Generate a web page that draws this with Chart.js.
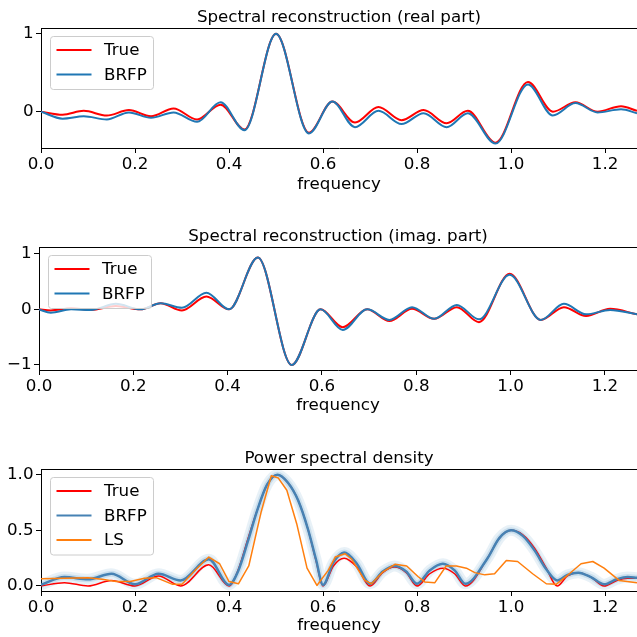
<!DOCTYPE html>
<html><head><meta charset="utf-8">
<script src="https://cdn.jsdelivr.net/npm/chart.js@4"></script>
<style>
html,body{margin:0;padding:0;background:#fff;overflow:hidden;width:637px;height:637px;}
canvas{position:absolute;left:0;}
</style></head><body>
<canvas id="c1" width="637" height="198" style="top:0px;width:637px;height:198px"></canvas>
<canvas id="c2" width="637" height="200" style="top:219px;width:637px;height:200px"></canvas>
<canvas id="c3" width="637" height="196" style="top:441px;width:637px;height:196px"></canvas>
<script>
// ---------- data ----------
const xTickValues = [0, 0.2, 0.4, 0.6, 0.8, 1.0, 1.2];
const xTickLabels = ['0.0', '0.2', '0.4', '0.6', '0.8', '1.0', '1.2'];

const titleReal = 'Spectral reconstruction (real part)';
const titleImag = 'Spectral reconstruction (imag. part)';
const titlePsd  = 'Power spectral density';
const xLabel = 'frequency';

const realYTicks = [0, 1];
const realYLabels = ['0', '1'];
const realFreq = [0.000, 0.046, 0.091, 0.140, 0.187, 0.234, 0.282, 0.332, 0.382, 0.433, 0.500, 0.570, 0.620, 0.668, 0.718, 0.767, 0.814, 0.863, 0.908, 0.967, 1.036, 1.089, 1.137, 1.184, 1.234, 1.268];
const realTrue = [0.00, -0.04, 0.01, -0.05, 0.02, -0.06, 0.04, -0.10, 0.09, -0.23, 1.00, -0.27, 0.13, -0.14, 0.06, -0.11, 0.02, -0.15, 0.01, -0.40, 0.38, 0.00, 0.12, 0.00, 0.07, 0.01];
const realBRFP = [0.00, -0.09, -0.06, -0.10, -0.01, -0.08, -0.01, -0.13, 0.12, -0.24, 1.00, -0.28, 0.13, -0.20, 0.01, -0.16, -0.02, -0.20, -0.02, -0.41, 0.35, -0.05, 0.11, -0.01, 0.03, -0.02];

const imagYTicks = [-1, 0, 1];
const imagYLabels = ['\u22121', '0', '1'];
const imagFreq = [0.000, 0.025, 0.068, 0.110, 0.163, 0.215, 0.258, 0.303, 0.355, 0.403, 0.464, 0.536, 0.597, 0.644, 0.696, 0.743, 0.791, 0.838, 0.886, 0.933, 0.998, 1.064, 1.113, 1.160, 1.211, 1.268];
const imagTrue = [0.00, -0.02, 0.02, -0.01, 0.06, 0.00, 0.11, -0.02, 0.23, 0.00, 0.93, -1.00, 0.00, -0.32, 0.00, -0.21, 0.01, -0.17, 0.04, -0.23, 0.64, -0.19, 0.04, -0.12, 0.01, -0.09];
const imagBRFP = [0.00, -0.06, 0.00, -0.01, 0.10, 0.00, 0.11, 0.03, 0.30, 0.00, 0.93, -1.00, 0.00, -0.37, 0.00, -0.19, 0.04, -0.17, 0.08, -0.18, 0.62, -0.19, 0.10, -0.09, -0.01, -0.09];

const psdYTicks = [0, 0.5, 1.0];
const psdYLabels = ['0.0', '0.5', '1.0'];
const psdFreq = [0.000, 0.050, 0.100, 0.150, 0.200, 0.250, 0.297, 0.357, 0.400, 0.420, 0.440, 0.460, 0.481, 0.503, 0.525, 0.547, 0.568, 0.585, 0.600, 0.622, 0.645, 0.672, 0.700, 0.727, 0.752, 0.777, 0.800, 0.827, 0.855, 0.880, 0.903, 0.950, 0.975, 1.000, 1.025, 1.050, 1.075, 1.098, 1.120, 1.143, 1.170, 1.198, 1.225, 1.248, 1.268];
const psdTrue = [0.00, 0.03, 0.00, 0.05, 0.00, 0.09, 0.00, 0.19, 0.00, 0.15, 0.42, 0.68, 0.91, 1.00, 0.93, 0.77, 0.51, 0.23, 0.00, 0.18, 0.25, 0.17, 0.00, 0.12, 0.17, 0.12, 0.00, 0.11, 0.16, 0.11, 0.00, 0.25, 0.43, 0.50, 0.46, 0.34, 0.16, 0.00, 0.09, 0.12, 0.08, 0.00, 0.05, 0.07, 0.07];
const psdBRFP = [0.01, 0.08, 0.06, 0.11, 0.015, 0.11, 0.05, 0.24, 0.01, 0.14, 0.40, 0.68, 0.91, 1.00, 0.93, 0.77, 0.51, 0.24, 0.01, 0.21, 0.30, 0.20, 0.02, 0.13, 0.18, 0.13, 0.02, 0.14, 0.20, 0.14, 0.02, 0.25, 0.43, 0.50, 0.45, 0.32, 0.15, 0.05, 0.10, 0.12, 0.08, 0.015, 0.06, 0.08, 0.075];
const lsFreq = [0.000, 0.050, 0.100, 0.130, 0.160, 0.190, 0.220, 0.245, 0.280, 0.300, 0.330, 0.357, 0.380, 0.400, 0.420, 0.442, 0.468, 0.490, 0.505, 0.523, 0.544, 0.566, 0.587, 0.611, 0.626, 0.647, 0.661, 0.689, 0.703, 0.728, 0.753, 0.778, 0.802, 0.817, 0.838, 0.862, 0.884, 0.905, 0.923, 0.944, 0.965, 0.990, 1.014, 1.046, 1.075, 1.096, 1.124, 1.149, 1.174, 1.198, 1.230, 1.268];
const lsPower = [0.065, 0.07, 0.075, 0.06, 0.04, 0.04, 0.07, 0.075, 0.015, 0.015, 0.15, 0.26, 0.20, 0.04, 0.02, 0.18, 0.66, 0.99, 0.97, 0.86, 0.56, 0.16, 0.005, 0.14, 0.26, 0.29, 0.24, 0.05, 0.02, 0.13, 0.195, 0.18, 0.085, 0.035, 0.03, 0.18, 0.18, 0.16, 0.12, 0.10, 0.11, 0.23, 0.22, 0.11, 0.02, 0.015, 0.11, 0.20, 0.22, 0.16, 0.05, 0.03];

// ---------- styling ----------
const FONT = '"DejaVu Sans", sans-serif';
const FS = 16.7;
const X_MAX = 1.268;
const RED = '#ff0000';
const BLUE = '#1f77b4';
const ORANGE = '#ff7f0e';
const PSD_BLUE = '#4682b4';

function pts(xs, ys) { return xs.map((x, i) => ({x: x, y: ys[i]})); }

const legendPlugin = {
  id: 'mplLegend',
  afterDraw(chart, args, opts) {
    const ctx = chart.ctx, a = chart.chartArea;
    const rowH = 24.5, w = 103;
    const h = 4 + rowH * opts.items.length;
    const x = Math.round(a.left + opts.dx) + 0.5, y = Math.round(a.top + opts.dy) + 0.5;
    const r = 3;
    ctx.save();
    ctx.beginPath();
    ctx.moveTo(x + r, y); ctx.lineTo(x + w - r, y); ctx.arcTo(x + w, y, x + w, y + r, r);
    ctx.lineTo(x + w, y + h - r); ctx.arcTo(x + w, y + h, x + w - r, y + h, r);
    ctx.lineTo(x + r, y + h); ctx.arcTo(x, y + h, x, y + h - r, r);
    ctx.lineTo(x, y + r); ctx.arcTo(x, y, x + r, y, r);
    ctx.closePath();
    ctx.fillStyle = 'rgba(255,255,255,0.8)'; ctx.fill();
    ctx.strokeStyle = '#cccccc'; ctx.lineWidth = 1; ctx.stroke();
    opts.items.forEach((it, i) => {
      const cy = y + 13.5 + i * rowH;
      ctx.beginPath(); ctx.moveTo(x + 6, cy); ctx.lineTo(x + 41, cy);
      ctx.strokeStyle = it.color; ctx.lineWidth = it.width; ctx.stroke();
      ctx.fillStyle = '#000'; ctx.font = FS + 'px ' + FONT; ctx.textBaseline = 'middle'; ctx.textAlign = 'left';
      ctx.fillText(it.label, x + 53.5, cy + 1);
    });
    ctx.restore();
  }
};

const topSpinePlugin = {
  id: 'topSpine',
  afterDraw(chart) {
    const ctx = chart.ctx, a = chart.chartArea;
    ctx.save();
    ctx.beginPath();
    ctx.moveTo(a.left, Math.round(a.top) + 0.5); ctx.lineTo(a.right, Math.round(a.top) + 0.5);
    ctx.strokeStyle = '#000'; ctx.lineWidth = 1; ctx.stroke();
    ctx.restore();
  }
};

function axisGrid() {
  return { display: true, drawOnChartArea: false, drawTicks: true, tickLength: 5, tickColor: '#000', tickWidth: 1 };
}

function makeChart(id, p) {
  return new Chart(document.getElementById(id), {
    type: 'line',
    data: { datasets: p.datasets },
    options: {
      responsive: false, animation: false, devicePixelRatio: 1, events: [],
      layout: { padding: 0 },
      elements: { point: { radius: 0 }, line: { fill: false, borderCapStyle: 'butt', borderJoinStyle: 'round' } },
      plugins: {
        legend: { display: false }, tooltip: { enabled: false },
        title: { display: true, text: p.title, color: '#000', fullSize: false,
                 font: { family: FONT, size: FS, weight: 'normal', lineHeight: 1.2 },
                 padding: { top: 8, bottom: 0 } },
        mplLegend: { items: p.legend, dx: 8.5, dy: 8 }
      },
      scales: {
        x: {
          type: 'linear', min: 0, max: X_MAX,
          afterFit: s => { s.height = p.xAxisH; },
          afterBuildTicks: s => { s.ticks = xTickValues.map(v => ({ value: v })); },
          ticks: { callback: (v, i) => xTickLabels[i], color: '#000', font: { family: FONT, size: FS }, padding: 1.5, maxRotation: 0, autoSkip: false },
          grid: axisGrid(),
          border: { display: true, color: '#000', width: 1 },
          title: { display: true, text: xLabel, color: '#000', font: { family: FONT, size: FS, lineHeight: 1.2 }, padding: { top: 0, bottom: p.xlabelPad } }
        },
        y: {
          type: 'linear', min: p.yMin, max: p.yMax,
          afterFit: s => { s.width = p.left; },
          afterBuildTicks: s => { s.ticks = p.yTicks.map(v => ({ value: v })); },
          ticks: { callback: (v, i) => p.yLabels[i], color: '#000', font: { family: FONT, size: FS }, padding: 2.5, autoSkip: false },
          grid: axisGrid(),
          border: { display: true, color: '#000', width: 1 }
        }
      }
    },
    plugins: [legendPlugin, topSpinePlugin]
  });
}

function lineDs(label, xs, ys, color, width, order, smooth) {
  return { label: label, data: pts(xs, ys), borderColor: color, borderWidth: width, order: order,
           cubicInterpolationMode: smooth ? 'monotone' : 'default', tension: 0, fill: false, pointRadius: 0 };
}

makeChart('c1', {
  title: titleReal, left: 41, xAxisH: 50, xlabelPad: 3, yMin: -0.467, yMax: 1.074,
  yTicks: realYTicks, yLabels: realYLabels,
  datasets: [
    lineDs('True', realFreq, realTrue, RED, 2, 2, true),
    lineDs('BRFP', realFreq, realBRFP, BLUE, 2, 1, true)
  ],
  legend: [{ label: 'True', color: RED, width: 2 }, { label: 'BRFP', color: BLUE, width: 2 }]
});

makeChart('c2', {
  title: titleImag, left: 39, xAxisH: 49, xlabelPad: 3, yMin: -1.09, yMax: 1.12,
  yTicks: imagYTicks, yLabels: imagYLabels,
  datasets: [
    lineDs('True', imagFreq, imagTrue, RED, 2, 2, true),
    lineDs('BRFP', imagFreq, imagBRFP, BLUE, 2, 1, true)
  ],
  legend: [{ label: 'True', color: RED, width: 2 }, { label: 'BRFP', color: BLUE, width: 2 }]
});

makeChart('c3', {
  title: titlePsd, left: 41, xAxisH: 46, xlabelPad: 1, yMin: -0.045, yMax: 1.051,
  yTicks: psdYTicks, yLabels: psdYLabels,
  datasets: [
    lineDs('BRFP samples', psdFreq, psdBRFP, 'rgba(31,119,180,0.10)', 11, 6, true),
    lineDs('BRFP samples', psdFreq, psdBRFP, 'rgba(31,119,180,0.15)', 6, 5, true),
    lineDs('True', psdFreq, psdTrue, RED, 1.5, 4, true),
    lineDs('BRFP', psdFreq, psdBRFP, PSD_BLUE, 2.5, 3, true),
    lineDs('LS', lsFreq, lsPower, ORANGE, 1.5, 1, false)
  ],
  legend: [{ label: 'True', color: RED, width: 2 }, { label: 'BRFP', color: PSD_BLUE, width: 2 }, { label: 'LS', color: ORANGE, width: 2 }]
});
</script>
</body></html>
